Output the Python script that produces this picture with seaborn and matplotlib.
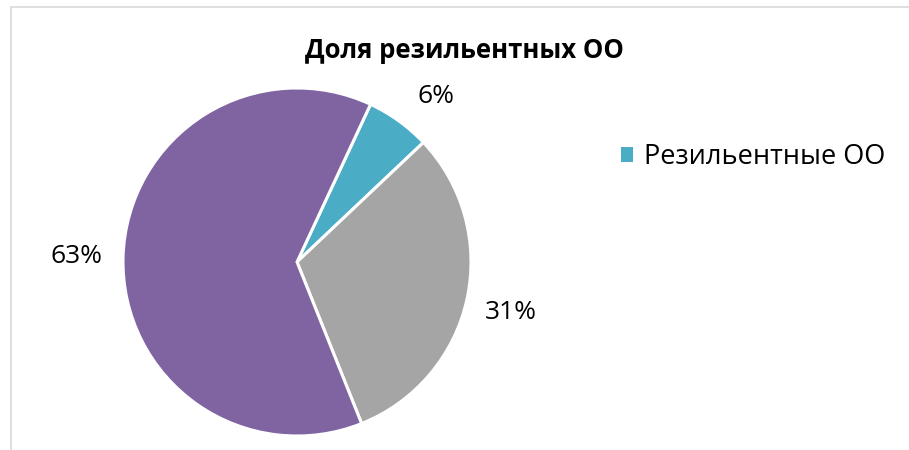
import matplotlib
matplotlib.use("Agg")
import matplotlib.pyplot as plt
import matplotlib.patches as mpatches
import seaborn as sns

# data
categories = ["Резильентные ОО", "Прочие ОО", "Остальные ОО"]
shares = [6, 31, 63]
legend_names = ["Резильентные ОО", "_nolegend_", "_nolegend_"]
colors = ["#4BACC6", "#A5A5A5", "#8064A2"]
title = "Доля резильентных ОО"

# label positions (in pie radius units), Excel "best fit" style
label_pos = [(0.80, 0.95), (1.23, -0.29), (-1.27, 0.03)]

sns.set_theme(style="white")
plt.rcParams["font.family"] = ["Open Sans", "DejaVu Sans"]
plt.rcParams["text.color"] = "black"

fig = plt.figure(figsize=(9.09, 4.5), dpi=100)

# light chart frame (clipped at right and bottom like the original)
frame = mpatches.Rectangle((10.5 / 909, -0.2), 1.2, 0.2 + (450 - 6.5) / 450,
                           transform=fig.transFigure, fill=False,
                           edgecolor="#D9D9D9", linewidth=1.2)
fig.patches.append(frame)

cx, cy, r = 297, 262, 174
ax = fig.add_axes([(cx - r) / 909, (450 - cy - r) / 450, 2 * r / 909, 2 * r / 450])

palette = sns.color_palette(colors)
wedges, _ = ax.pie(shares, colors=palette, startangle=65, counterclock=False,
                   labels=legend_names, labeldistance=None,
                   wedgeprops=dict(edgecolor="white", linewidth=2.2))
ax.set_xlim(-1, 1)
ax.set_ylim(-1, 1)
ax.set_aspect("auto")
ax.axis("off")

for val, (x, y) in zip(shares, label_pos):
    ax.text(x, y, f"{val}%", ha="center", va="center", fontsize=19, color="black")

fig.text(464 / 909, (450 - 58) / 450, title, ha="center", va="baseline",
         fontsize=18.5, fontweight="bold", color="black")

leg = fig.legend(loc="center left", bbox_to_anchor=(621 / 909, (450 - 157) / 450),
                 frameon=False, fontsize=19.5, borderpad=0, borderaxespad=0,
                 handlelength=0.45, handleheight=0.45, handletextpad=0.4,
                 labelcolor="black")
for h in leg.legend_handles:
    h.set_edgecolor("none")

fig.savefig("out.png", dpi=100)
